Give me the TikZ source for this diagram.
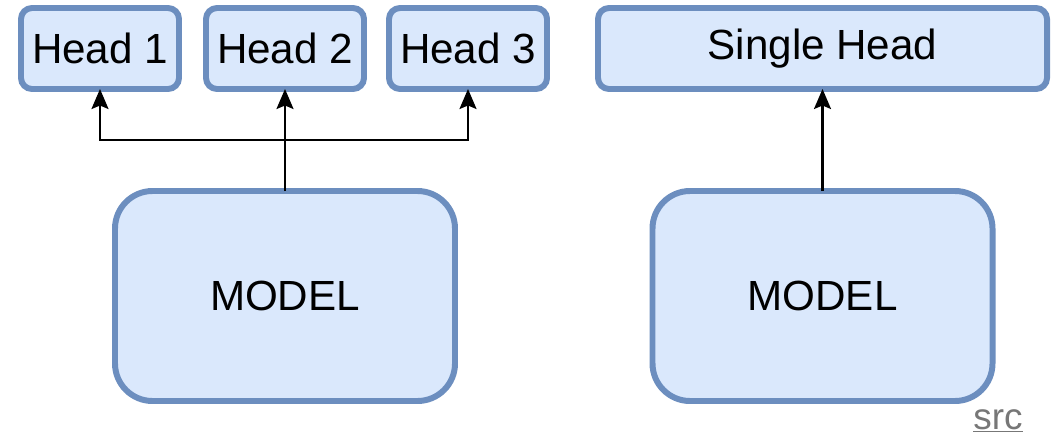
\documentclass[tikz,border=0pt]{standalone}
\usepackage{fontspec}
\setmainfont{Liberation Sans}
\usetikzlibrary{arrows.meta,positioning,calc}

\definecolor{boxfill}{HTML}{DAE8FC}
\definecolor{boxline}{HTML}{6C8EBF}
\definecolor{linkgray}{HTML}{777777}

\begin{document}
\begin{tikzpicture}[
        node distance=1cm,
        head/.style={draw=boxline, line width=3.4pt, fill=boxfill, rounded corners=0.22cm, minimum width=3.16cm, minimum height=1.62cm, outer sep=0pt, inner sep=0pt, align=center, font=\fontsize{24}{28}\selectfont},
        model/.style={head, rounded corners=0.75cm, minimum width=6.8cm, minimum height=4.2cm},
        conn/.style={draw, -{Stealth[length=0.4cm, width=0.34cm, inset=0.07cm]}, line width=1.2pt, black},
        link/.style={text=linkgray, inner sep=0pt, font=\fontsize{21}{24}\selectfont}
    ]
        \useasboundingbox (0,0) rectangle (21.02,-8.8);

        % Heads
        \node (head1) [head] at (2.0,-0.97) {Head 1};
        \node (head2) [head, right=0.54cm of head1] {Head 2};
        \node (head3) [head, right=0.5cm of head2] {Head 3};
        \node (single) [head, right=1.02cm of head3, minimum width=8.98cm] {Single Head};

        % Models
        \node (model1) [model, below=2.04cm of head2] {MODEL};
        \node (model2) [model, below=2.04cm of single] {MODEL};

        % Multi-head branch
        \coordinate (fork) at ($(model1.north)!0.5!(head2.south)$);
        \draw [conn] (model1.north) -- (head2.south);
        \draw [conn] (fork) -| (head1.south);
        \draw [conn] (fork) -| (head3.south);

        % Single head
        \draw [conn] (model2.north) -- (single.south);

        \node (src) [link, anchor=base] at (19.96,-8.58) {\underline{src}};
    \end{tikzpicture}
\end{document}
